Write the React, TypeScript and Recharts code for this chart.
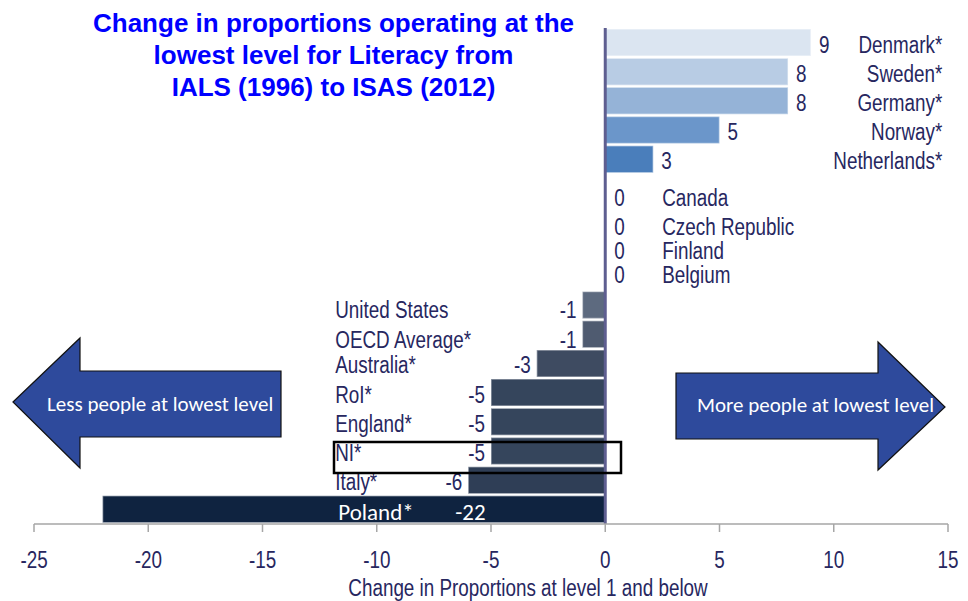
import React from 'react';
import { BarChart, Bar, XAxis, YAxis, Cell, LabelList, ReferenceLine } from 'recharts';

const countries = [
  'Denmark*', 'Sweden*', 'Germany*', 'Norway*', 'Netherlands*',
  'Canada', 'Czech Republic', 'Finland', 'Belgium',
  'United States', 'OECD Average*', 'Australia*', 'RoI*', 'England*', 'NI*', 'Italy*', 'Poland*',
];
const changes = [9, 8, 8, 5, 2.1, 0, 0, 0, 0, -1, -1, -3, -5, -5, -5, -6, -22];
const valueLabels = ['9', '8', '8', '5', '3', '0', '0', '0', '0', '-1', '-1', '-3', '-5', '-5', '-5', '-6', '-22'];
const xTicks = [-25, -20, -15, -10, -5, 0, 5, 10, 15];
const barColors = [
  '#dbe5f1', '#b8cce4', '#95b3d7', '#6b96ca', '#4a7ebb',
  'none', 'none', 'none', 'none',
  '#5d6a7f', '#4f5b70', '#3e4b61', '#35455c', '#35455c', '#35455c', '#2f3e56', '#0f2340',
];

const data = countries.map((name, i) => ({ name, change: changes[i], label: valueLabels[i] }));

const TEXT_COLOR = '#27275f';
const ARIAL = "'Liberation Sans', Arial, sans-serif";
const CALIBRI = "Carlito, Lato, 'Open Sans', sans-serif";
const FS = 23;
const SX = 0.82;

const NText = ({ x, y, anchor = 'start', size = FS, fill = TEXT_COLOR, children }: any) => (
  <text
    transform={`translate(${x},${y}) scale(${SX},1)`}
    x={0}
    y={0}
    textAnchor={anchor}
    fontFamily={ARIAL}
    fontSize={size}
    fill={fill}
  >
    {children}
  </text>
);

const labelDy: Record<string, number> = {
  Canada: 10, 'Czech Republic': 9, Finland: 4, Belgium: -1,
  'United States': 5, 'OECD Average*': 6, 'Poland*': 4,
};

const renderLabel = (props: any) => {
  const vb = props.viewBox && typeof props.viewBox.x === 'number' ? props.viewBox : props;
  const x = Number(vb.x);
  const y = Number(vb.y);
  const w = Number(vb.width);
  const h = Number(vb.height);
  const name = String(props.value);
  const idx = countries.indexOf(name);
  if (idx < 0) return null;
  const v = changes[idx];
  const left = Math.min(x, x + w);
  const right = Math.max(x, x + w);
  const zero = v >= 0 ? left : right;
  const cy = y + h / 2 + (labelDy[name] ?? 2) + 8;
  const txt = valueLabels[idx];
  if (name === 'Poland*') {
    return (
      <g>
        <text x={zero - 267} y={cy - 1} fontFamily={CALIBRI} fontSize={23} fill="#ffffff">{name}</text>
        <text x={zero - 150} y={cy - 1} fontFamily={CALIBRI} fontSize={23} fill="#ffffff">{txt}</text>
      </g>
    );
  }
  if (v > 0) {
    return (
      <g>
        <NText x={right + 8} y={cy}>{txt}</NText>
        <NText x={zero + 337} y={cy} anchor="end">{name}</NText>
      </g>
    );
  }
  if (v === 0) {
    return (
      <g>
        <NText x={zero + 9} y={cy}>{txt}</NText>
        <NText x={zero + 57} y={cy}>{name}</NText>
      </g>
    );
  }
  return (
    <g>
      <NText x={left - 6} y={cy} anchor="end">{txt}</NText>
      <NText x={zero - 270} y={cy}>{name}</NText>
    </g>
  );
};

const renderTick = (p: any) => (
  <NText x={p.x} y={Number(p.y) + 36} anchor="middle">{p.payload.value}</NText>
);

const renderAxisTitle = (p: any) => {
  const vb = p.viewBox || {};
  const cx = Number(vb.x) + Number(vb.width) / 2 + 37;
  return <NText x={cx} y={596} anchor="middle" size={23}>Change in Proportions at level 1 and below</NText>;
};

export default function App() {
  return (
    <div style={{ position: 'absolute', left: 0, top: 0, width: 968, height: 601, background: '#ffffff' }}>
      <BarChart
        width={968}
        height={601}
        data={data}
        layout="vertical"
        margin={{ top: 28, right: 20, bottom: 0, left: 34 }}
        barCategoryGap={1}
      >
        <XAxis
          type="number"
          domain={[-25, 15]}
          ticks={xTicks}
          interval={0}
          allowDataOverflow
          height={77}
          tickSize={8}
          tickMargin={0}
          axisLine={{ stroke: '#a6a6a6', strokeWidth: 1.5 }}
          tickLine={{ stroke: '#a6a6a6', strokeWidth: 1.5 }}
          tick={renderTick}
          label={{ value: 'Change in Proportions at level 1 and below', content: renderAxisTitle }}
        />
        <YAxis type="category" dataKey="name" hide />
        <Bar dataKey="change" isAnimationActive={false} minPointSize={1} strokeWidth={1.5}>
          {data.map((d, i) => (
            <Cell
              key={d.name}
              fill={barColors[i]}
              stroke={d.change === 0 ? 'none' : '#ffffff'}
              strokeOpacity={0.45}
            />
          ))}
          <LabelList dataKey="name" content={renderLabel} />
        </Bar>
        <ReferenceLine x={0} stroke="#5e5e90" strokeWidth={3} />
      </BarChart>

      <svg
        width={968}
        height={601}
        style={{ position: 'absolute', left: 0, top: 0, pointerEvents: 'none' }}
      >
        <polygon
          points="13,402 80,338 80,371 281,371 281,437 80,437 80,468"
          fill="#2e4a9c"
          stroke="#111111"
          strokeWidth={1.2}
        />
        <text x={47} y={411} fill="#ffffff" fontFamily={CALIBRI} fontSize={21}>Less people at lowest level</text>
        <polygon
          points="676,373 878,373 878,342 945,407 878,470 878,439 676,439"
          fill="#2e4a9c"
          stroke="#111111"
          strokeWidth={1.2}
        />
        <text x={697} y={412} fill="#ffffff" fontFamily={CALIBRI} fontSize={21}>More people at lowest level</text>
        <rect x={334} y={442} width={287} height={31} fill="none" stroke="#000000" strokeWidth={2.5} />
      </svg>

      <div
        style={{
          position: 'absolute',
          left: 0,
          top: 7,
          width: 667,
          textAlign: 'center',
          fontFamily: "'Liberation Sans', Arial, sans-serif",
          fontWeight: 'bold',
          fontSize: 26,
          lineHeight: '32px',
          color: '#0000ff',
        }}
      >
        Change in proportions operating at the
        <br />
        lowest level for Literacy from
        <br />
        IALS (1996) to ISAS (2012)
      </div>
    </div>
  );
}
